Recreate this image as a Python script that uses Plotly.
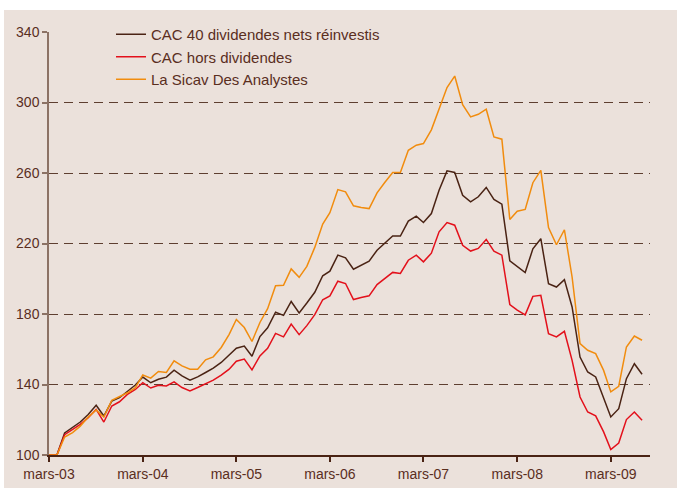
import pandas as pd
import plotly.graph_objects as go

# Monthly points, March 2003 -> July 2009
months = pd.date_range("2003-03-01", periods=77, freq="MS")

cac_net = [100, 100, 112.5, 115.5, 118.7, 123, 128.2, 122.1, 130.6, 132.5,
           135.9, 139.7, 144.2, 141, 143, 144.2, 148.1, 144.9, 142.5, 144.3,
           146.8, 149.3, 152.5, 156.8, 160.6, 161.8, 156, 167.2, 172.2, 181,
           179.2, 187.1, 180.6, 186.2, 192.3, 201.7, 204.3, 213.4, 211.9, 205.4,
           207.7, 210, 216.2, 220.4, 224.3, 224.2, 232.7, 235.5, 231.9, 237,
           250.2, 261.2, 260.3, 247.4, 243.6, 246.5, 251.8, 245, 242.3, 210.2,
           206.8, 203.5, 217, 222.7, 197.2, 195.3, 199.5, 184, 155.6, 147.1,
           144.3, 132.9, 121.6, 126.3, 143.3, 151.8, 145.8]

cac_hors = [100, 100, 111.5, 114.6, 117.4, 121.2, 125.9, 118.7, 127.8, 130.2,
            134.4, 137.2, 141, 138, 139.6, 139.2, 141.5, 138.3, 136.4, 138.3,
            140.6, 142.5, 145.3, 148.7, 153.2, 154.4, 148.3, 156.2, 160.5, 169,
            167, 174.3, 168.3, 173.4, 179.6, 188.1, 190.3, 198.6, 197.3, 188.2,
            189.4, 190.3, 196.7, 200.2, 203.6, 203, 210.5, 213.4, 209.6, 214.5,
            226.6, 231.9, 230.4, 219, 215.7, 217.2, 222.3, 215.7, 213.4, 185.4,
            182.2, 179.5, 190, 190.6, 168.8, 167, 170.2, 153.7, 132.9, 124.4,
            122.2, 113.1, 103.1, 106.8, 120.1, 124.4, 119.7]

sicav = [100, 100, 110.2, 112.7, 116.4, 121.5, 125.5, 121.5, 131, 132.9,
         135.3, 138.2, 145.4, 143.6, 147.4, 146.8, 153.4, 150.6, 148.7, 148.7,
         154, 155.7, 161, 168.5, 176.9, 172.3, 164.4, 175.2, 183, 196,
         196.3, 205.6, 200.8, 207, 217.8, 231, 237.5, 250.6, 249.3, 241.4,
         240.4, 239.8, 248.7, 254.6, 260.3, 260.3, 272.9, 275.8, 276.7, 284.5,
         296, 308.5, 315, 298.8, 291.8, 293.3, 296.2, 280.5, 279.2, 233.6,
         238.3, 239.3, 254.5, 261.5, 229, 219.3, 227.8, 201, 163.2, 159.4,
         157.5, 148, 135.8, 139, 161.3, 167.5, 165.1]

series_names = ["CAC 40 dividendes nets réinvestis", "CAC hors dividendes",
                "La Sicav Des Analystes"]
x_tick_dates = ["2003-03-01", "2004-03-01", "2005-03-01", "2006-03-01",
                "2007-03-01", "2008-03-01", "2009-03-01"]
x_tick_labels = ["mars-03", "mars-04", "mars-05", "mars-06", "mars-07",
                 "mars-08", "mars-09"]
y_ticks = [100, 140, 180, 220, 260, 300, 340]

BG = "#EBE1DB"
TXT = "#5A2E1E"
colors = ["#4A2314", "#E3101B", "#F18C0E"]

fig = go.Figure()
for name, vals, col in zip(series_names, [cac_net, cac_hors, sicav], colors):
    fig.add_trace(go.Scatter(x=months, y=vals, mode="lines", name=name,
                             line=dict(color=col, width=1.5)))

W, H = 677, 488
L, R, T, B = 49, 27, 32, 33
pw, ph = W - L - R, H - T - B

fig.update_layout(
    width=W, height=H,
    margin=dict(l=L, r=R, t=T, b=B, pad=0, autoexpand=False),
    paper_bgcolor=BG, plot_bgcolor=BG,
    font=dict(family="Liberation Sans, Arial, sans-serif", size=14, color=TXT),
    showlegend=True,
    legend=dict(x=(111 - L) / pw, y=(H - B - 18) / ph, xanchor="left", yanchor="top",
                bgcolor=BG, borderwidth=0, font=dict(size=15, color=TXT),
                tracegroupgap=0),
    xaxis=dict(type="date", range=["2003-03-01", "2009-08-01"],
               tickvals=x_tick_dates, ticktext=x_tick_labels,
               showgrid=False, zeroline=False, automargin=False,
               showline=True, linecolor="#4A2314", linewidth=1.5,
               ticks="outside", ticklen=5, tickcolor="#4A2314", tickwidth=1.5,
               tickfont=dict(size=14, color=TXT)),
    yaxis=dict(range=[100, 340], tickvals=y_ticks,
               showgrid=True, gridcolor="#5E3F30", gridwidth=1.2, griddash="9px,6px",
               zeroline=False, automargin=False,
               showline=True, linecolor="#8C7265", linewidth=1.5,
               ticks="outside", ticklen=5, tickcolor="#8C7265", tickwidth=1.5,
               tickfont=dict(size=14, color=TXT)),
)

# white frame strips around the beige panel (top and left edges)
fig.add_shape(type="rect", xref="paper", yref="paper",
              x0=-L / pw - 0.02, x1=(4 - L) / pw,
              y0=-B / ph - 0.02, y1=(H - B + 6) / ph,
              fillcolor="#FFFFFF", line=dict(width=0), layer="above")
fig.add_shape(type="rect", xref="paper", yref="paper",
              x0=-L / pw - 0.02, x1=1 + R / pw + 0.02,
              y0=(H - B - 10) / ph, y1=(H - B + 6) / ph,
              fillcolor="#FFFFFF", line=dict(width=0), layer="above")

fig.write_html("out.html", config={"displayModeBar": False},
               post_script="document.body.style.margin='0';document.body.style.padding='0';")
